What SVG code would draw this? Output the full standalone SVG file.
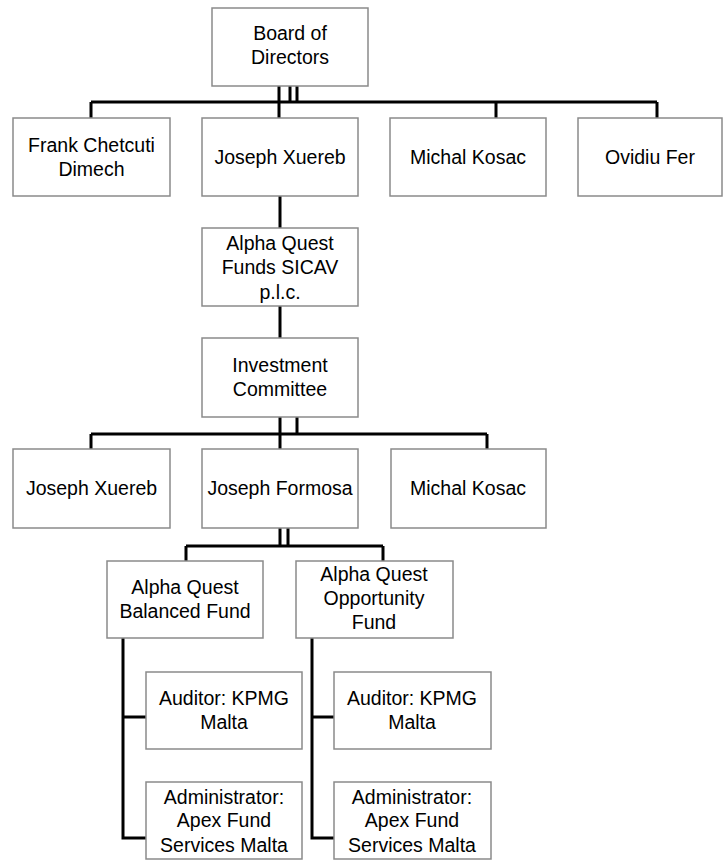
<svg xmlns="http://www.w3.org/2000/svg" width="723" height="860" viewBox="0 0 723 860">
<style>
.box{fill:#fff;stroke:#8a8a8a;stroke-width:1.5}
.lbl{font-family:"Liberation Sans",Arial,sans-serif;font-size:19.5px;fill:#000;text-anchor:middle}
.con{fill:none;stroke:#000;stroke-width:3}
</style>
<rect width="723" height="860" fill="#fff"/>
<g id="connectors">
<path class="con" d="M91,102 H657 M91,102 V118 M496,102 V118 M657,102 V118 M279,86 V118 M290,86 V102 M297,86 V102"/>
<path class="con" d="M280,196 V228 M280,306 V338"/>
<path class="con" d="M91,434 H487 M91,434 V449 M487,434 V449 M280,417 V449 M297,417 V434"/>
<path class="con" d="M186,546 H383 M186,546 V561 M383,546 V561 M280,528 V546 M288,528 V546"/>
<path class="con" d="M123,638 V838 H146 M123,717 H146"/>
<path class="con" d="M312,638 V838 H334 M312,717 H334"/>
</g>
<g id="board"><rect class="box" x="212" y="8" width="156" height="78"/><text class="lbl" x="290" y="40">Board of</text><text class="lbl" x="290" y="64">Directors</text></g>
<g id="frank"><rect class="box" x="13" y="118" width="157" height="78"/><text class="lbl" x="91.5" y="152">Frank Chetcuti</text><text class="lbl" x="91.5" y="176">Dimech</text></g>
<g id="xuereb1"><rect class="box" x="202" y="118" width="156" height="78"/><text class="lbl" x="280" y="164">Joseph Xuereb</text></g>
<g id="kosac1"><rect class="box" x="390" y="118" width="156" height="78"/><text class="lbl" x="468" y="164">Michal Kosac</text></g>
<g id="fer"><rect class="box" x="578" y="118" width="144" height="78"/><text class="lbl" x="650" y="164">Ovidiu Fer</text></g>
<g id="sicav"><rect class="box" x="202" y="228" width="156" height="78"/><text class="lbl" x="280" y="250">Alpha Quest</text><text class="lbl" x="280" y="274">Funds SICAV</text><text class="lbl" x="280" y="299">p.l.c.</text></g>
<g id="committee"><rect class="box" x="202" y="338" width="156" height="79"/><text class="lbl" x="280" y="372">Investment</text><text class="lbl" x="280" y="396">Committee</text></g>
<g id="xuereb2"><rect class="box" x="13" y="449" width="157" height="79"/><text class="lbl" x="91.5" y="495">Joseph Xuereb</text></g>
<g id="formosa"><rect class="box" x="202" y="449" width="156" height="79"/><text class="lbl" x="280" y="495">Joseph Formosa</text></g>
<g id="kosac2"><rect class="box" x="391" y="449" width="155" height="79"/><text class="lbl" x="468" y="495">Michal Kosac</text></g>
<g id="balanced"><rect class="box" x="107" y="561" width="156" height="77"/><text class="lbl" x="185" y="594">Alpha Quest</text><text class="lbl" x="185" y="618">Balanced Fund</text></g>
<g id="opportunity"><rect class="box" x="296" y="561" width="157" height="77"/><text class="lbl" x="374" y="581">Alpha Quest</text><text class="lbl" x="374" y="605">Opportunity</text><text class="lbl" x="374" y="629">Fund</text></g>
<g id="auditor1"><rect class="box" x="146" y="672" width="156" height="77"/><text class="lbl" x="224" y="705">Auditor: KPMG</text><text class="lbl" x="224" y="729">Malta</text></g>
<g id="admin1"><rect class="box" x="146" y="782" width="156" height="77"/><text class="lbl" x="224" y="804">Administrator:</text><text class="lbl" x="224" y="827">Apex Fund</text><text class="lbl" x="224" y="852">Services Malta</text></g>
<g id="auditor2"><rect class="box" x="334" y="672" width="157" height="77"/><text class="lbl" x="412" y="705">Auditor: KPMG</text><text class="lbl" x="412" y="729">Malta</text></g>
<g id="admin2"><rect class="box" x="334" y="782" width="157" height="77"/><text class="lbl" x="412" y="804">Administrator:</text><text class="lbl" x="412" y="827">Apex Fund</text><text class="lbl" x="412" y="852">Services Malta</text></g>
</svg>
